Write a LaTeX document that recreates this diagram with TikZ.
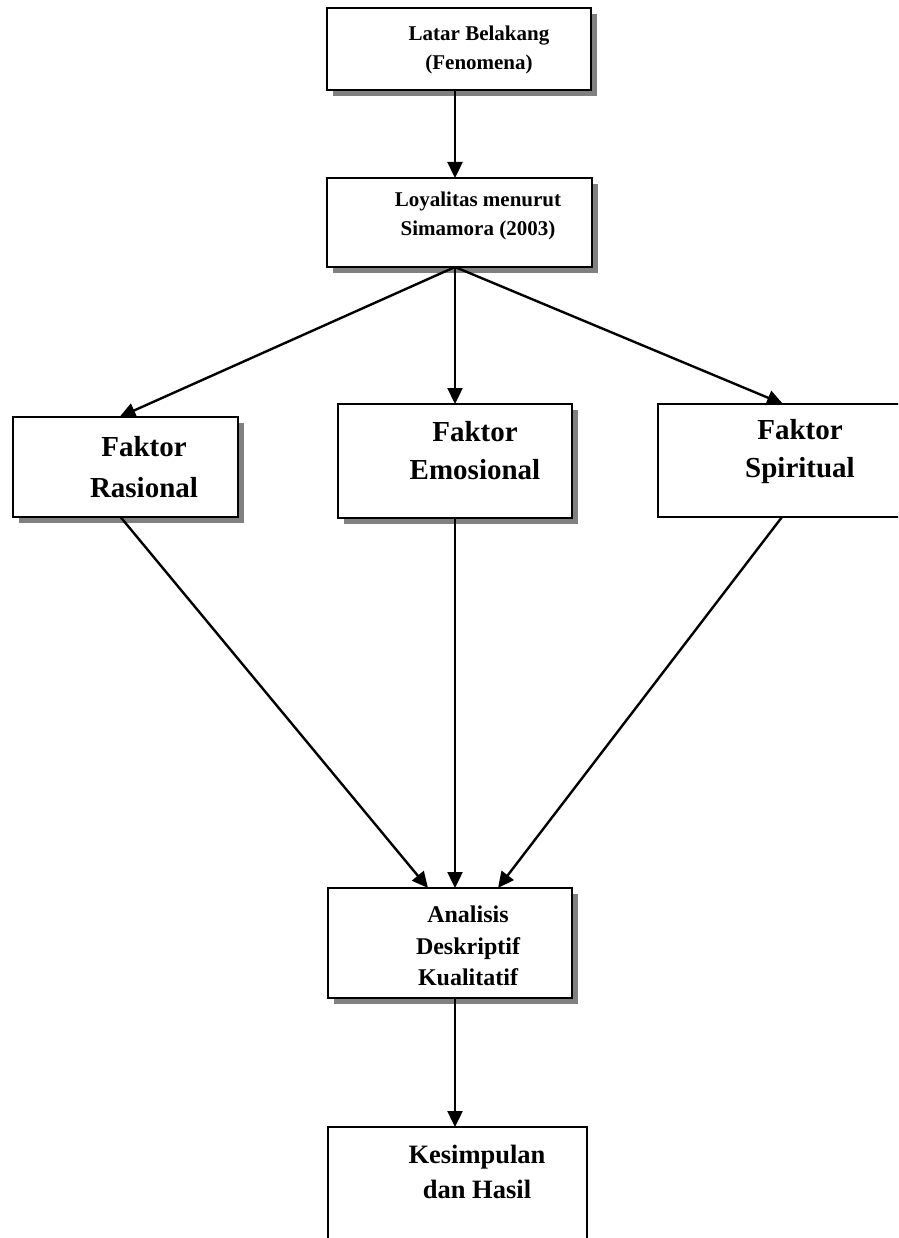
\documentclass[tikz,border=0pt]{standalone}
\usepackage{fontspec}
\setmainfont{Liberation Serif}
\usetikzlibrary{arrows.meta,shadows,calc}
\begin{document}
\begin{tikzpicture}[x=1pt,y=-1pt,
  box/.style={draw, line width=2.4pt, fill=white, inner sep=0pt, outer sep=0pt},
  shad/.style={drop shadow={shadow xshift=6pt, shadow yshift=-6pt, fill=black!50, opacity=1}},
  lbl/.style={align=center, inner sep=0pt},
  arr/.style={line width=2.4pt, -{Triangle[length=16pt,width=15pt]}}
]
\useasboundingbox (0,0) rectangle (898,1238);
\clip (0,0) rectangle (898,1238);
% boxes
\node[box,shad,minimum width=264pt,minimum height=82pt] (b1) at (459,49) {};
\node[box,shad,minimum width=265pt,minimum height=89pt] (b2) at (459.5,222.5) {};
\node[box,shad,minimum width=225pt,minimum height=100pt] (ras) at (125.5,467) {};
\node[box,shad,minimum width=234pt,minimum height=114pt] (emo) at (455,461) {};
\node[box,minimum width=250pt,minimum height=113pt] (spi) at (783,460.5) {};
\node[box,shad,minimum width=244pt,minimum height=110pt] (ana) at (450,943) {};
\node[box,minimum width=259pt,minimum height=140pt] (kes) at (457.5,1197) {};
% texts
\node[lbl,font=\bfseries\fontsize{21}{29}\selectfont] (t1) at (479,50) {Latar Belakang\\(Fenomena)};
\node[lbl,font=\bfseries\fontsize{21}{29}\selectfont] (t2) at (478,216) {Loyalitas menurut\\Simamora (2003)};
\node[lbl,font=\bfseries\fontsize{29}{41}\selectfont] (t3) at (144,467) {Faktor\\Rasional};
\node[lbl,font=\bfseries\fontsize{29}{38}\selectfont] (t4) at (475,451) {Faktor\\Emosional};
\node[lbl,font=\bfseries\fontsize{29}{38}\selectfont] (t5) at (800,452) {Faktor\\Spiritual};
\node[lbl,font=\bfseries\fontsize{24}{31.5}\selectfont] (t6) at (468,946) {Analisis\\Deskriptif\\Kualitatif};
\node[lbl,font=\bfseries\fontsize{26.5}{35}\selectfont] (t7) at (477,1172) {Kesimpulan\\dan Hasil};
% connectors
\draw[arr] (b1.south -| emo.north) -- (b2.north -| emo.north);
\draw[arr] (b2.south -| emo.north) -- ($(ras.north)+(-6,0)$);
\draw[arr] (b2.south -| emo.north) -- (emo.north);
\draw[arr] (b2.south -| emo.north) -- (spi.north);
\draw[arr] ($(ras.south)+(-5,0)$) -- ($(ana.north)+(-22,0)$);
\draw[arr] (emo.south) -- (emo.south |- ana.north);
\draw[arr] ($(spi.south)+(-1,0)$) -- ($(ana.north)+(48,0)$);
\draw[arr] (ana.south -| emo.south) -- (kes.north -| emo.south);
\end{tikzpicture}
\end{document}
